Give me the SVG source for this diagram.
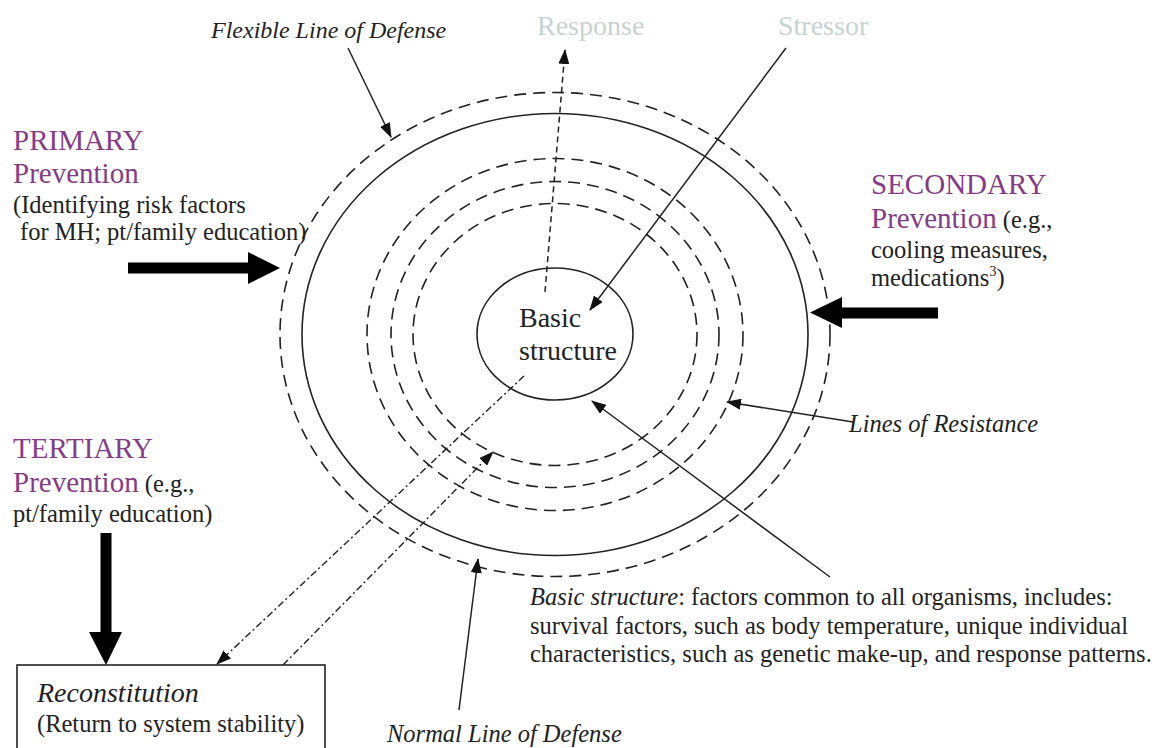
<svg xmlns="http://www.w3.org/2000/svg" width="1162" height="748" viewBox="0 0 1162 748" font-family="'Liberation Serif', 'Times New Roman', 'DejaVu Serif', serif">
<style>
text, tspan { font-family: 'Liberation Serif', 'Times New Roman', 'DejaVu Serif', serif; }
text { fill: #222; }
.h { font-size: 29px; fill: #853c88; }
.s { font-size: 24.5px; }
.i { font-style: italic; }
.g { font-size: 28px; fill: #c6d3cf; }
.ring { fill: none; stroke: #222; stroke-width: 1.6; }
.dash { stroke-dasharray: 12 7; }
.ln { fill: none; stroke: #222; stroke-width: 1.5; }
.rd { stroke-dasharray: 6 4; }
.dd { stroke-dasharray: 7 3 2 3; stroke-width: 1.4; }
.big { fill: #000; }
</style>
<defs>
<marker id="ah" markerWidth="15" markerHeight="11" refX="14" refY="5.5" orient="auto" markerUnits="userSpaceOnUse">
<path d="M0,0 L15,5.5 L0,11 Z" fill="#111"/>
</marker>
</defs>
<rect width="1162" height="748" fill="#fff"/>

<g id="flexible-line-of-defense">
<ellipse class="ring dash" cx="555" cy="334.5" rx="275" ry="242"/>
</g>
<g id="normal-line-of-defense">
<ellipse class="ring" cx="555" cy="334.5" rx="253" ry="221"/>
</g>
<g id="lines-of-resistance">
<ellipse class="ring dash" cx="555" cy="334.5" rx="188" ry="176"/>
<ellipse class="ring dash" cx="555" cy="334.5" rx="164" ry="153"/>
<ellipse class="ring dash" cx="555" cy="334.5" rx="142" ry="131"/>
</g>
<g id="basic-structure">
<ellipse class="ring" cx="555" cy="334" rx="78" ry="66"/>
<text x="519" y="327" font-size="28">Basic</text>
<text x="519" y="360" font-size="28">structure</text>
</g>

<g id="connectors">
<line class="ln" x1="348" y1="48" x2="391" y2="137" marker-end="url(#ah)"/>
<line class="ln rd" x1="545" y1="292" x2="565" y2="50" marker-end="url(#ah)"/>
<line class="ln" x1="786" y1="48" x2="590" y2="310" marker-end="url(#ah)"/>
<line class="ln" x1="853" y1="422" x2="727" y2="402" marker-end="url(#ah)"/>
<line class="ln" x1="830" y1="577" x2="592" y2="401" marker-end="url(#ah)"/>
<line class="ln" x1="459" y1="710" x2="478" y2="559" marker-end="url(#ah)"/>
<line class="ln dd" x1="524" y1="376" x2="217" y2="664" marker-end="url(#ah)"/>
<line class="ln dd" x1="283" y1="665" x2="493" y2="452" marker-end="url(#ah)"/>
<path class="big" d="M128,262.5 H248 V252 L280,268 L248,284 V273.5 H128 Z"/>
<path class="big" d="M938,307.5 H842 V297 L810,312.5 L842,328 V318.5 H938 Z"/>
<path class="big" d="M100.5,533 V632 H89 L106,665 L122,632 H111.5 V533 Z"/>
</g>

<g id="label-flexible">
<text class="i" x="211" y="38" font-size="24">Flexible Line of Defense</text>
</g>
<g id="label-response">
<text class="g" x="537" y="35">Response</text>
</g>
<g id="label-stressor">
<text class="g" x="778" y="35">Stressor</text>
</g>

<g id="primary">
<text class="h" x="13" y="150">PRIMARY</text>
<text class="h" x="13" y="183">Prevention</text>
<text class="s" x="13" y="213">(Identifying risk factors</text>
<text class="s" x="20" y="240">for MH; pt/family education)</text>
</g>

<g id="secondary">
<text class="h" x="871" y="194">SECONDARY</text>
<text x="871" y="228"><tspan class="h">Prevention</tspan><tspan class="s"> (e.g.,</tspan></text>
<text class="s" x="871" y="258">cooling measures,</text>
<text class="s" x="871" y="286">medications<tspan font-size="14" dy="-10">3</tspan><tspan dy="10">)</tspan></text>
</g>

<g id="tertiary">
<text class="h" x="13" y="458">TERTIARY</text>
<text x="13" y="492"><tspan class="h">Prevention</tspan><tspan class="s"> (e.g.,</tspan></text>
<text class="s" x="13" y="522">pt/family education)</text>
</g>

<g id="label-lines-of-resistance">
<text class="s i" x="849" y="432">Lines of Resistance</text>
</g>

<g id="label-basic-structure">
<text class="s" x="530" y="605"><tspan class="i">Basic structure</tspan>: factors common to all organisms, includes:</text>
<text class="s" x="530" y="634">survival factors, such as body temperature, unique individual</text>
<text class="s" x="530" y="662">characteristics, such as genetic make-up, and response patterns.</text>
</g>

<g id="label-normal">
<text class="s i" x="387" y="742">Normal Line of Defense</text>
</g>

<g id="reconstitution">
<rect x="17" y="665" width="308" height="100" fill="none" stroke="#222" stroke-width="1.6"/>
<text class="i" x="37" y="702" font-size="28">Reconstitution</text>
<text class="s" x="37" y="732">(Return to system stability)</text>
</g>
</svg>
